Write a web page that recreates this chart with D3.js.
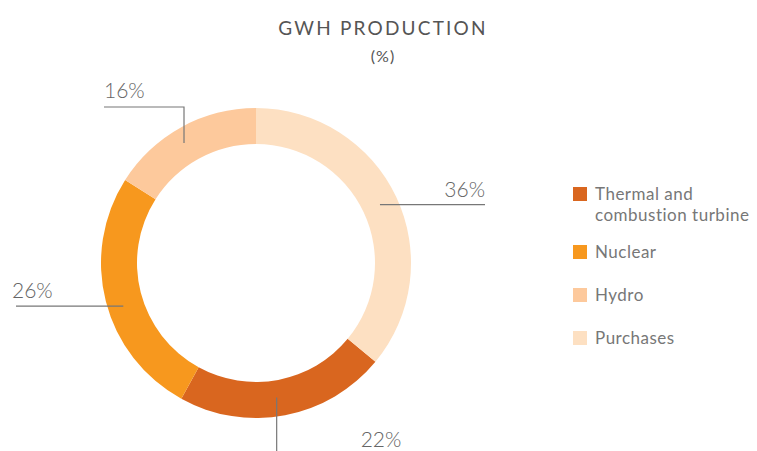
<!DOCTYPE html>
<html>
<head>
<meta charset="utf-8">
<script src="https://cdn.jsdelivr.net/npm/d3@7/dist/d3.min.js"></script>
<style>
  body { margin: 0; background: #fff; }
  text { font-family: "Lato", "Open Sans", sans-serif; }
</style>
</head>
<body>
<div id="chart"></div>
<script>
// GWH production share (%)
var categories = ["Thermal and combustion turbine", "Nuclear", "Hydro", "Purchases"];
var values = [22, 26, 16, 36];
var colors = ["#D9661F", "#F7981E", "#FDC99C", "#FDE0C2"];
var valueLabels = ["22%", "26%", "16%", "36%"];

var svgWidth = 757;
var svgHeight = 451;

var svg = d3.select("#chart")
    .append("svg")
    .attr("width", svgWidth)
    .attr("height", svgHeight);

// Title
svg.append("text")
    .attr("x", 383)
    .attr("y", 35)
    .attr("text-anchor", "middle")
    .style("font-size", "19px")
    .style("letter-spacing", "2.2px")
    .style("fill", "#555")
    .text("GWH PRODUCTION");

svg.append("text")
    .attr("x", 383)
    .attr("y", 62)
    .attr("text-anchor", "middle")
    .style("font-size", "16px")
    .style("letter-spacing", "1px")
    .style("fill", "#555")
    .text("(%)");

// Donut
var cx = 256, cy = 263;
var outerR = 155, innerR = 119;

var data = categories.map(function(c, i) {
    return { name: c, value: values[i], color: colors[i], label: valueLabels[i] };
});

// Thermal starts after Purchases (last series) which sits at 12 o'clock
var total = d3.sum(values);
var start = 2 * Math.PI * values[3] / total;
var pie = d3.pie()
    .sort(null)
    .value(d => d.value)
    .startAngle(start)
    .endAngle(start + 2 * Math.PI);

var arc = d3.arc().innerRadius(innerR).outerRadius(outerR);
var midArc = d3.arc().innerRadius(137).outerRadius(137);

var g = svg.append("g").attr("transform", `translate(${cx}, ${cy})`);
var arcs = pie(data);

g.selectAll("path")
    .data(arcs)
    .enter()
    .append("path")
    .attr("d", arc)
    .attr("fill", d => d.data.color);

// Leader lines and value labels (layout per slice)
var leaders = {
    "Purchases": { type: "h", endX: 485, ty: -8, anchor: "end" },
    "Thermal and combustion turbine": { type: "v", nudgeX: -5, endY: 451, tx: 84, ty: 447 },
    "Nuclear": { type: "h", endX: 16, nudgeY: 9, ty: -8, anchor: "start", tdx: -4 },
    "Hydro": { type: "elbow", nudgeX: -6, topY: 107, endX: 104 }
};

arcs.forEach(function(d) {
    var c = midArc.centroid(d);
    var x0 = cx + c[0] + (leaders[d.data.name].nudgeX || 0);
    var y0 = cy + c[1] + (leaders[d.data.name].nudgeY || 0);
    var L = leaders[d.data.name];
    var pts, tx, ty, anchor;
    if (L.type === "h") {
        pts = [[x0, y0], [L.endX, y0]];
        tx = L.endX + (L.tdx || 0); ty = y0 + L.ty; anchor = L.anchor;
    } else if (L.type === "v") {
        pts = [[x0, y0], [x0, L.endY]];
        tx = x0 + L.tx; ty = L.ty; anchor = "start";
    } else {
        pts = [[x0, y0], [x0, L.topY], [L.endX, L.topY]];
        tx = L.endX; ty = L.topY - 9; anchor = "start";
    }
    svg.append("path")
        .attr("d", d3.line()(pts))
        .attr("fill", "none")
        .attr("stroke", "#777")
        .attr("stroke-width", 1.2);
    svg.append("text")
        .attr("x", tx)
        .attr("y", ty)
        .attr("text-anchor", anchor)
        .style("font-size", "21px")
        .style("font-weight", 300)
        .style("fill", "#666")
        .text(d.data.label);
});

// Legend: two-line entries take a little more room
var legend = svg.append("g").attr("transform", "translate(573, 187)");

function splitName(name) {
    return name === "Thermal and combustion turbine"
        ? ["Thermal and", "combustion turbine"] : [name];
}

var offsets = [];
var acc = 0;
data.forEach(function(d) {
    offsets.push(acc);
    acc += 43 + 15 * (splitName(d.name).length - 1);
});

var items = legend.selectAll("g")
    .data(data)
    .enter()
    .append("g")
    .attr("transform", (d, i) => `translate(0, ${offsets[i]})`);

items.append("rect")
    .attr("width", 14)
    .attr("height", 14)
    .attr("fill", d => d.color);

items.append("text")
    .attr("x", 22)
    .attr("y", 13)
    .style("font-size", "17px")
    .style("letter-spacing", "0.5px")
    .style("fill", "#777")
    .each(function(d) {
        var t = d3.select(this);
        splitName(d.name).forEach(function(l, i) {
            t.append("tspan").attr("x", 22).attr("dy", i === 0 ? 0 : 21).text(l);
        });
    });
</script>
</body>
</html>
